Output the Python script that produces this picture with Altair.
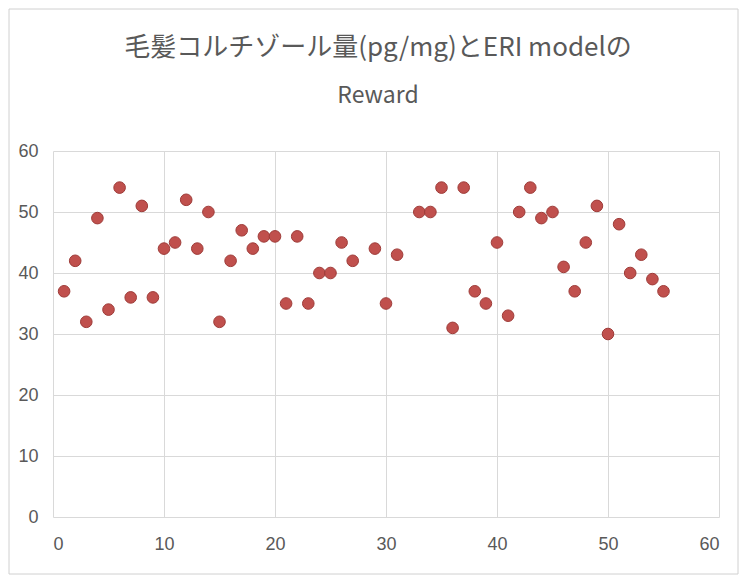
import altair as alt
import pandas as pd

xs = [1, 2, 3, 4, 5, 6, 7, 8, 9, 10, 11, 12, 13, 14, 15, 16, 17, 18, 19, 20,
      21, 22, 23, 24, 25, 26, 27, 29, 30, 31, 33, 34, 35, 36, 37, 38, 39, 40,
      41, 42, 43, 44, 45, 46, 47, 48, 49, 50, 51, 52, 53, 54, 55]
ys = [37, 42, 32, 49, 34, 54, 36, 51, 36, 44, 45, 52, 44, 50, 32, 42, 47, 44, 46, 46,
      35, 46, 35, 40, 40, 45, 42, 44, 35, 43, 50, 50, 54, 31, 54, 37, 35, 45,
      33, 50, 54, 49, 50, 41, 37, 45, 51, 30, 48, 40, 43, 39, 37]
ticks = [0, 10, 20, 30, 40, 50, 60]

df = pd.DataFrame({"x": xs, "y": ys})

points = alt.Chart(df).mark_circle(
    size=135, color="#C0504D", opacity=1, stroke="#9E3B38", strokeWidth=1
).encode(
    x=alt.X("x:Q", scale=alt.Scale(domain=[0, 60], nice=False),
            axis=alt.Axis(values=ticks, title=None, grid=True, domain=False, ticks=False,
                          labelPadding=18)),
    y=alt.Y("y:Q", scale=alt.Scale(domain=[0, 60], nice=False),
            axis=alt.Axis(values=ticks, title=None, grid=True, domain=False, ticks=False,
                          labelPadding=15)),
)

border = alt.Chart(pd.DataFrame({"a": [0]})).mark_rect(
    fill=None, stroke="#D0D0D0", strokeWidth=1
).encode(
    x=alt.value(-44), x2=alt.value(685), y=alt.value(-142), y2=alt.value(423)
)

chart = alt.layer(border, points).properties(
    width=666, height=366,
    autosize=alt.AutoSizeParams(type="none"),
    padding={"left": 45, "top": 143, "right": 20, "bottom": 58},
    title=alt.TitleParams(
        text="毛髪コルチゾール量(pg/mg)とERI modelの",
        subtitle="Reward",
        anchor="middle", dx=-8, offset=-99,
        font="Noto Sans CJK JP", fontSize=26, fontWeight="normal", color="#595959",
        subtitleFont="Noto Sans CJK JP", subtitleFontSize=23, subtitleColor="#595959",
        subtitlePadding=24,
    ),
).configure_axis(
    gridColor="#D9D9D9", gridWidth=1, labelColor="#595959", labelFontSize=18,
    labelFont="Liberation Sans",
).configure_view(stroke=None)

chart.save("out.html", embed_options={"renderer": "svg", "actions": False})
